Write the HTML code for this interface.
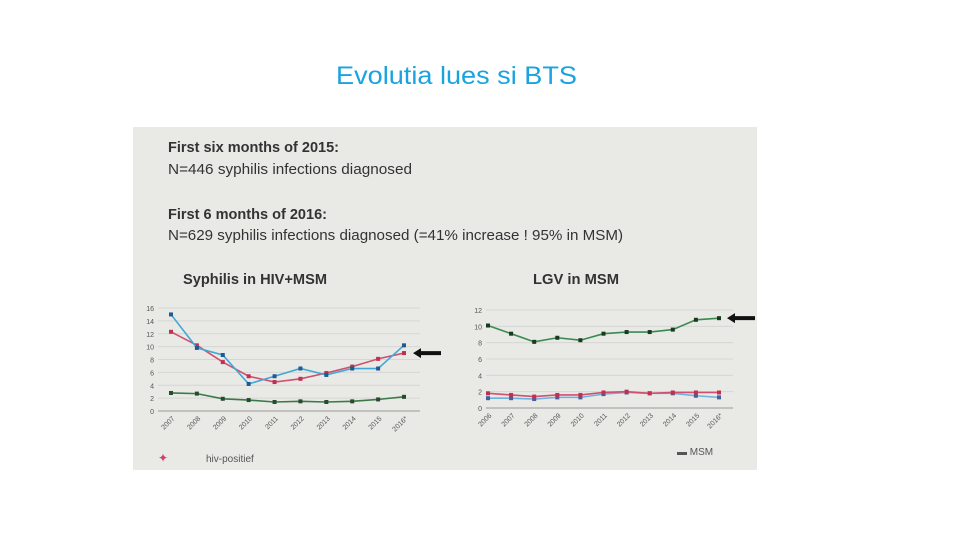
<!DOCTYPE html>
<html><head><meta charset="utf-8"><style>
body{margin:0;background:#fff;width:960px;height:540px;overflow:hidden}
svg{display:block;font-family:"Liberation Sans",sans-serif}
</style></head><body>
<svg id="s" width="960" height="540" viewBox="0 0 960 540">
<text x="336" y="84" font-size="25" fill="#1aa3e0" textLength="241" lengthAdjust="spacingAndGlyphs">Evolutia lues si BTS</text>
<rect x="133" y="127" width="624" height="343" fill="#e9e9e6"/>
<g fill="#333" font-size="15">
<text x="168" y="152" font-weight="bold" textLength="171" lengthAdjust="spacingAndGlyphs">First six months of 2015:</text>
<text x="168" y="174" textLength="244" lengthAdjust="spacingAndGlyphs">N=446 syphilis infections diagnosed</text>
<text x="168" y="219" font-weight="bold" textLength="159" lengthAdjust="spacingAndGlyphs">First 6 months of 2016:</text>
<text x="168" y="240" textLength="455" lengthAdjust="spacingAndGlyphs">N=629 syphilis infections diagnosed (=41% increase ! 95% in MSM)</text>
<text x="183" y="284" font-weight="bold" textLength="144" lengthAdjust="spacingAndGlyphs">Syphilis in HIV+MSM</text>
<text x="533" y="284" font-weight="bold" textLength="86" lengthAdjust="spacingAndGlyphs">LGV in MSM</text>
</g>
<g id="left"></g>
<g id="right"></g>
<text x="206" y="462" font-size="10" fill="#555">hiv-positief</text>
<text x="158" y="462" font-size="12" fill="#d04060">✦</text>
<text x="677" y="455" font-size="10" fill="#555">▬ MSM</text>
</svg>
<script>
const leftCats=["2007","2008","2009","2010","2011","2012","2013","2014","2015","2016*"];
const leftBlue=[15,9.8,8.7,4.2,5.4,6.6,5.6,6.6,6.6,10.2];
const leftRed=[12.3,10.2,7.6,5.4,4.5,5,5.9,6.9,8.1,9];
const leftGreen=[2.8,2.7,1.9,1.7,1.4,1.5,1.4,1.5,1.8,2.2];
const leftTicks=[0,2,4,6,8,10,12,14,16];
const rightCats=["2006","2007","2008","2009","2010","2011","2012","2013","2014","2015","2016*"];
const rightGreen=[10.1,9.1,8.1,8.6,8.3,9.1,9.3,9.3,9.6,10.8,11];
const rightRed=[1.8,1.6,1.4,1.6,1.6,1.9,2,1.8,1.9,1.9,1.9];
const rightBlue=[1.2,1.2,1.1,1.3,1.3,1.7,1.9,1.8,1.8,1.5,1.3];
const rightTicks=[0,2,4,6,8,10,12];
const NS="http://www.w3.org/2000/svg";
function mk(p,t,a){const e=document.createElementNS(NS,t);for(const k in a)e.setAttribute(k,a[k]);p.appendChild(e);return e;}
function chart(g,cats,series,ticks,x0,x1,y0,y1,maxV,axL,axR,arrowX,arrowV){
  const xs=i=>x0+(x1-x0)*i/(cats.length-1);
  const ys=v=>y0-(y0-y1)*v/maxV;
  ticks.forEach(t=>{
    const l=mk(g,"line",{x1:axL,x2:axR,y1:ys(t),y2:ys(t),stroke:t===0?"#999":"#d6d6d3","stroke-width":1});
    
    
    const tx=mk(g,"text",{x:axL-4,y:ys(t)+3,"font-size":7,"text-anchor":"end",fill:"#555"});tx.textContent=t;
    
    
  });
  cats.forEach((c,i)=>{
    const tx=mk(g,"text",{x:xs(i)+4,y:y0+8,"font-size":7,"text-anchor":"end",fill:"#555",transform:`rotate(-45 ${xs(i)+4} ${y0+8})`});tx.textContent=c;
    
    
  });
  series.forEach(s=>{
    const pl=mk(g,"polyline",{points:s.v.map((v,i)=>xs(i)+","+ys(v)).join(" "),fill:"none",stroke:s.c,"stroke-width":1.6});
    
    
    s.v.forEach((v,i)=>{
      const r=mk(g,"rect",{x:xs(i)-2,y:ys(v)-2,width:4,height:4,fill:s.m});
      
      
    });
  });
  const ay=ys(arrowV);
  const ar=mk(g,"path",{d:`M${arrowX} ${ay} l8 -5 v3 h20 v4 h-20 v3 z`,fill:"#111"});
  
  
}
chart(document.getElementById("left"),leftCats,[
  {v:leftGreen,c:"#3a7a4a",m:"#2a4a30",n:"green-series"},
  {v:leftRed,c:"#d05070",m:"#c03050",n:"red-series"},
  {v:leftBlue,c:"#40a8d8",m:"#205a90",n:"blue-series"}],
  leftTicks,171,404,411,308,16,158,420,413,9);
chart(document.getElementById("right"),rightCats,[
  {v:rightBlue,c:"#70b0e0",m:"#4060a0",n:"blue-series"},
  {v:rightRed,c:"#d05070",m:"#c03050",n:"red-series"},
  {v:rightGreen,c:"#3a8a50",m:"#1a3a20",n:"green-series"}],
  rightTicks,488,719,408,310,12,486,733,727,11);
</script>
</body></html>
